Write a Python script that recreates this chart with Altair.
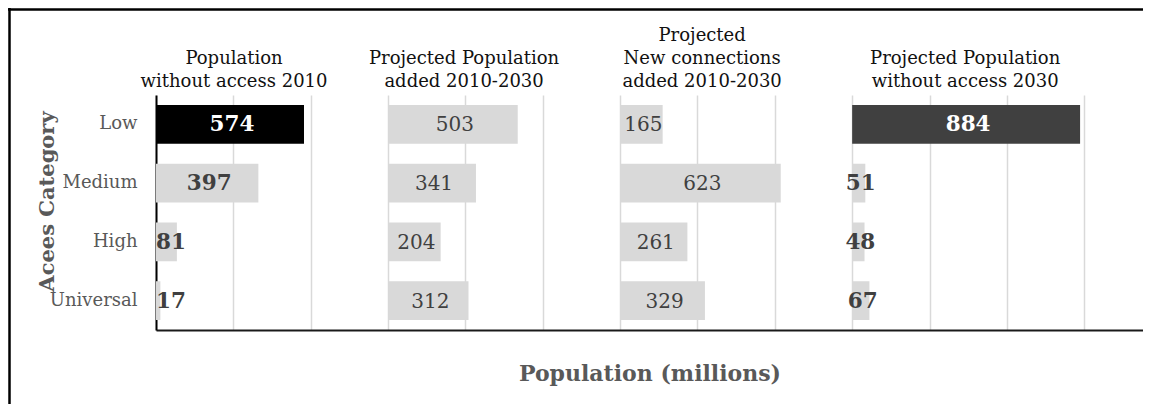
import altair as alt
import pandas as pd

# ---- data ----
categories = ["Low", "Medium", "High", "Universal"]
panel_titles = [
    ["Population", "without access 2010"],
    ["Projected Population", "added 2010-2030"],
    ["Projected", "New connections", "added 2010-2030"],
    ["Projected Population", "without access 2030"],
]
pop_without_2010 = [574, 397, 81, 17]
pop_added_2010_2030 = [503, 341, 204, 312]
new_connections_2010_2030 = [165, 623, 261, 329]
pop_without_2030 = [884, 51, 48, 67]

series = [pop_without_2010, pop_added_2010_2030, new_connections_2010_2030, pop_without_2030]

rows = []
for p, vals in enumerate(series):
    for c, v in zip(categories, vals):
        if c == "Low" and p == 0:
            tone = "black"
        elif c == "Low" and p == 3:
            tone = "dark"
        else:
            tone = "light"
        rows.append({"panel": p, "category": c, "value": v, "tone": tone,
                     "ink": "light" if tone in ("black", "dark") else "dark"})
df = pd.DataFrame(rows)

titles_df = pd.DataFrame({"panel": list(range(4)), "title": ["\n".join(t) for t in panel_titles]})

FONT = "DejaVu Serif"
PANEL_SPAN = 900
W, H = 987, 235
LINE_H = 23

x_scale = alt.Scale(domain=[0, 3828], nice=False, zero=False)
y_scale = alt.Scale(domain=categories, paddingInner=0.34, paddingOuter=0.17)

base = alt.Chart(df).transform_calculate(
    start=f"datum.panel * {PANEL_SPAN}",
    end=f"datum.panel * {PANEL_SPAN} + datum.value",
    labelx=f"datum.panel * {PANEL_SPAN} + (datum.panel == 0 ? max(datum.value / 2, 50) : datum.value / 2)",
)

bars = base.mark_bar().encode(
    x=alt.X(
        "start:Q",
        scale=x_scale,
        axis=alt.Axis(
            values=list(range(0, 3601, 300)),
            grid=True,
            gridColor="#d9d9d9",
            gridWidth=1.5,
            labels=False,
            ticks=False,
            domain=True,
            domainColor="#1a1a1a",
            domainWidth=2,
            title="Population (millions)",
            titleFont=FONT,
            titleFontSize=22,
            titleFontWeight="bold",
            titleColor="#595959",
            titlePadding=33,
        ),
    ),
    x2="end:Q",
    y=alt.Y(
        "category:N",
        sort=categories,
        scale=y_scale,
        axis=alt.Axis(
            domain=True,
            domainColor="#000000",
            domainWidth=2,
            ticks=False,
            tickSize=0,
            grid=False,
            labelPadding=19,
            labelFont=FONT,
            labelFontSize=18,
            labelColor="#595959",
            title="Acees Category",
            titleFont=FONT,
            titleFontSize=21,
            titleFontWeight="bold",
            titleColor="#595959",
            titleAngle=270,
            titleX=-109,
            titleY=106,
            titleAlign="center",
            titleBaseline="middle",
        ),
    ),
    fill=alt.Fill(
        "tone:N",
        scale=alt.Scale(domain=["black", "dark", "light"], range=["#000000", "#404040", "#d9d9d9"]),
        legend=None,
    ),
)

label_color = alt.Color(
    "ink:N",
    scale=alt.Scale(domain=["light", "dark"], range=["#ffffff", "#404040"]),
    legend=None,
)

labels_bold = base.transform_filter("datum.panel == 0 || datum.panel == 3").mark_text(
    font=FONT, fontSize=21.5, fontWeight="bold", align="center", baseline="middle", dx=2, dy=1
).encode(
    x=alt.X("labelx:Q", scale=x_scale),
    y=alt.Y("category:N", sort=categories, scale=y_scale),
    text="value:Q",
    color=label_color,
)

labels_regular = base.transform_filter("datum.panel == 1 || datum.panel == 2").mark_text(
    font=FONT, fontSize=20, align="center", baseline="middle", dx=2, dy=1
).encode(
    x=alt.X("labelx:Q", scale=x_scale),
    y=alt.Y("category:N", sort=categories, scale=y_scale),
    text="value:Q",
    color=label_color,
)

title_dx = [-38, -40, -34, -3]
title_layers = []
for p in range(4):
    n_lines = len(panel_titles[p])
    title_layers.append(
        alt.Chart(titles_df)
        .transform_filter(f"datum.panel == {p}")
        .transform_calculate(tx=f"datum.panel * {PANEL_SPAN} + {PANEL_SPAN / 2}")
        .mark_text(
            font=FONT, fontSize=18, color="#111111", align="center", baseline="alphabetic",
            lineBreak="\n", lineHeight=LINE_H, dx=title_dx[p], clip=False,
        )
        .encode(x=alt.X("tx:Q", scale=x_scale), y=alt.value(-8 - (n_lines - 1) * LINE_H), text="title:N")
    )

frame_df = pd.DataFrame({"k": [0]})
frame_left = alt.Chart(frame_df).mark_rule(color="#000000", strokeWidth=2.5).encode(
    x=alt.value(-146.5), y=alt.value(-87), y2=alt.value(H + 74)
)
frame_top = alt.Chart(frame_df).mark_rule(color="#000000", strokeWidth=2.5).encode(
    x=alt.value(-148), x2=alt.value(W), y=alt.value(-85.5)
)

chart = alt.layer(bars, labels_bold, labels_regular, *title_layers, frame_left, frame_top).resolve_scale(
    color="independent"
).properties(
    width=W,
    height=H,
    autosize=alt.AutoSizeParams(type="none"),
    padding={"left": 148, "top": 87, "right": 0, "bottom": 74},
).configure_view(stroke=None)

chart.save("out.html", embed_options={"renderer": "svg", "actions": False})
